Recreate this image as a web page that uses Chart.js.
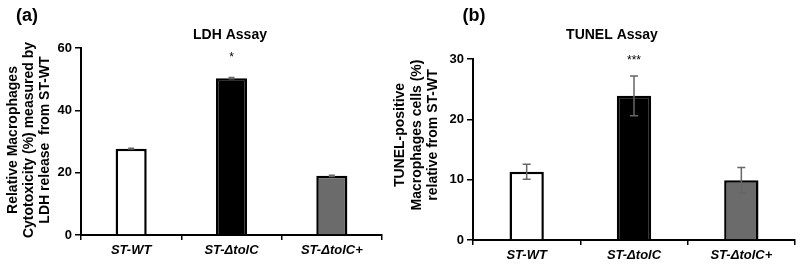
<!DOCTYPE html>
<html>
<head>
<meta charset="utf-8">
<script src="https://cdn.jsdelivr.net/npm/chart.js@4.4.1/dist/chart.umd.min.js"></script>
<style>
  body { margin: 0; background: #fff; }
  #wrap { position: relative; width: 800px; height: 267px; overflow: hidden; }
  canvas { position: absolute; top: 0; }
</style>
</head>
<body>
<div id="wrap">
  <canvas id="ldhChart" width="400" height="267" style="left:0"></canvas>
  <canvas id="tunelChart" width="415" height="267" style="left:385px"></canvas>
</div>
<script>
var strains = ['ST-WT', 'ST-\u0394tolC', 'ST-\u0394tolC+'];

var ldhValues = [27.7, 50.3, 19.0];
var ldhErrors = [0.1, 0.2, 0.2];
var ldhStars = ['', '*', ''];

var tunelValues = [11.3, 23.9, 9.9];
var tunelErrors = [1.25, 3.3, 2.1];
var tunelStars = ['', '***', ''];

var barFills = ['#ffffff', '#000000', '#6b6b6b'];
var FONT = "'Liberation Sans', Arial, Helvetica, sans-serif";

// error bars + significance stars, drawn through the y scale
var errorBars = {
  id: 'errorBars',
  afterDatasetsDraw: function(chart, args, opts) {
    var ctx = chart.ctx, y = chart.scales.y;
    var meta = chart.getDatasetMeta(0);
    var vals = chart.data.datasets[0].data;
    ctx.save();
    ctx.strokeStyle = opts.color;
    ctx.lineWidth = 1.5;
    meta.data.forEach(function(bar, i) {
      var top = y.getPixelForValue(vals[i] + opts.errors[i]);
      var bot = y.getPixelForValue(vals[i] - opts.errors[i]);
      ctx.beginPath();
      ctx.moveTo(bar.x, top); ctx.lineTo(bar.x, bot);
      ctx.moveTo(bar.x - opts.cap, top); ctx.lineTo(bar.x + opts.cap, top);
      ctx.moveTo(bar.x - opts.cap, bot); ctx.lineTo(bar.x + opts.cap, bot);
      ctx.stroke();
      if (opts.stars[i]) {
        ctx.fillStyle = '#000';
        ctx.font = '12px ' + FONT;
        ctx.textAlign = 'center';
        ctx.textBaseline = 'middle';
        ctx.fillText(opts.stars[i], bar.x, top - opts.starGap);
      }
    });
    ctx.restore();
  }
};

// panel letter, title and the three-line y title
var panelText = {
  id: 'panelText',
  afterDraw: function(chart, args, opts) {
    var ctx = chart.ctx;
    ctx.save();
    ctx.fillStyle = '#000';
    ctx.textAlign = 'center';
    ctx.textBaseline = 'middle';
    ctx.font = 'bold 18px ' + FONT;
    ctx.fillText(opts.letter, opts.letterX, 16);
    ctx.font = 'bold 14px ' + FONT;
    ctx.fillText(opts.title, opts.titleX, 35);
    opts.yTitle.forEach(function(line, i) {
      ctx.save();
      ctx.translate(opts.yTitleX[i], opts.yTitleY);
      ctx.rotate(-Math.PI / 2);
      ctx.fillText(line, 0, 0);
      ctx.restore();
    });
    ctx.restore();
  }
};

function makePanel(id, values, errors, stars, yMax, yStep, box, text, barPct, starGap, cap) {
  var canvas = document.getElementById(id);
  return new Chart(canvas.getContext('2d'), {
    type: 'bar',
    data: {
      labels: strains,
      datasets: [{
        data: values,
        backgroundColor: barFills,
        borderColor: '#000',
        borderWidth: 2.5,
        categoryPercentage: 1,
        barPercentage: barPct
      }]
    },
    plugins: [errorBars, panelText],
    options: {
      responsive: false,
      animation: false,
      layout: { padding: { left: 0, top: box.top, right: canvas.width - box.right, bottom: 0 } },
      plugins: {
        legend: { display: false },
        tooltip: { enabled: false },
        errorBars: { errors: errors, stars: stars, color: '#666', cap: cap, starGap: starGap },
        panelText: text
      },
      scales: {
        x: {
          offset: true,
          grid: { offset: true, drawOnChartArea: false, tickLength: 5, color: '#000', lineWidth: 1.5 },
          border: { color: '#000', width: 2 },
          ticks: { color: '#000', padding: 3, maxRotation: 0,
                   font: { family: FONT, size: 13, style: 'italic', weight: 'bold' } },
          afterFit: function(s) { s.height = canvas.height - box.bottom; }
        },
        y: {
          min: 0, max: yMax,
          grid: { drawOnChartArea: false, tickLength: 6, color: '#000', lineWidth: 1.5 },
          border: { color: '#000', width: 2 },
          ticks: { stepSize: yStep, color: '#000', padding: 3,
                   font: { family: FONT, size: 13, weight: 'bold' } },
          afterFit: function(s) { s.width = box.left; }
        }
      }
    }
  });
}

makePanel('ldhChart', ldhValues, ldhErrors, ldhStars, 60, 20,
  { left: 81, right: 382, top: 48, bottom: 235 },
  { letter: '(a)', letterX: 27, title: 'LDH Assay', titleX: 230,
    yTitle: ['Relative Macrophages', 'Cytotoxicity (%) measured by', 'LDH release  from ST-WT'],
    yTitleX: [13, 29, 45], yTitleY: 140 },
  0.31, 20, 3);

makePanel('tunelChart', tunelValues, tunelErrors, tunelStars, 30, 10,
  { left: 88, right: 410, top: 59, bottom: 240 },
  { letter: '(b)', letterX: 89, title: 'TUNEL Assay', titleX: 227,
    yTitle: ['TUNEL-positive', 'Macrophages cells (%)', 'relative from ST-WT'],
    yTitleX: [15, 32, 48], yTitleY: 135 },
  0.32, 15, 4);
</script>
</body>
</html>
